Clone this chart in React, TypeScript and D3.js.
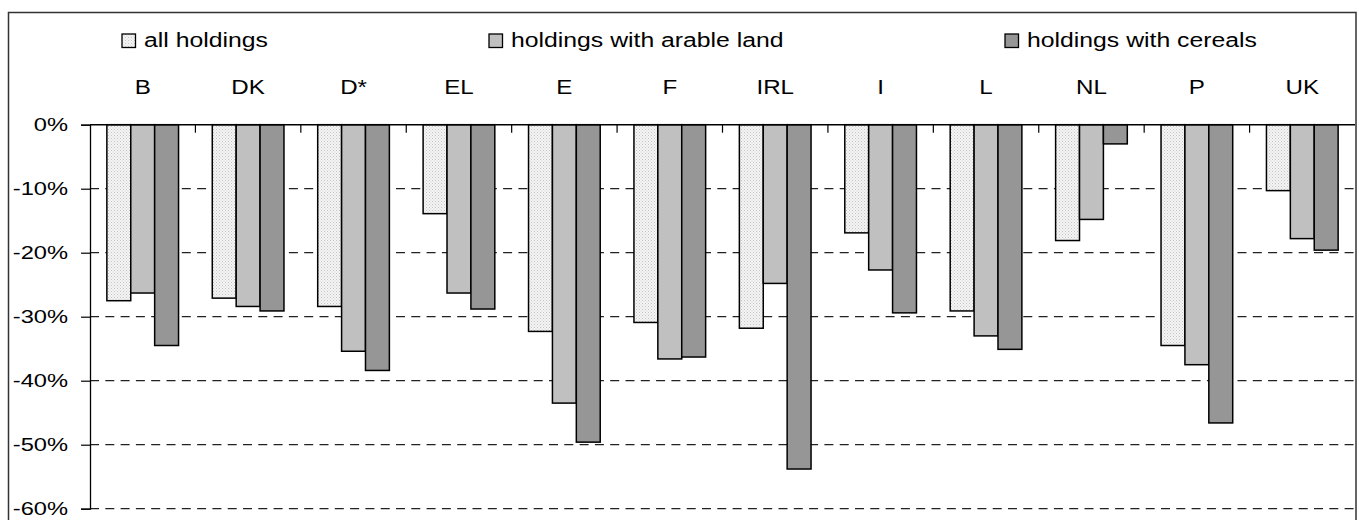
import React, { useEffect, useRef } from "react"
import * as d3 from "d3"

const countries = ["B", "DK", "D*", "EL", "E", "F", "IRL", "I", "L", "NL", "P", "UK"]
const seriesNames = ["all holdings", "holdings with arable land", "holdings with cereals"]
const allHoldings = [-27.5, -27.1, -28.4, -13.9, -32.3, -30.9, -31.8, -16.9, -29.1, -18.1, -34.5, -10.3]
const arableLand = [-26.3, -28.4, -35.4, -26.3, -43.5, -36.6, -24.8, -22.7, -33.0, -14.8, -37.5, -17.8]
const cereals = [-34.5, -29.1, -38.4, -28.8, -49.6, -36.3, -53.8, -29.4, -35.1, -3.0, -46.6, -19.6]
const yTicks = [0, -10, -20, -30, -40, -50, -60]

const seriesFills = ["url(#dots)", "#c0c0c0", "#969696"]

export default function App() {
  const svgRef = useRef<SVGSVGElement>(null)

  useEffect(() => {
    if (!svgRef.current) return
    const svg = d3.select(svgRef.current)
    svg.selectAll("*").remove()

    const W = 1359
    const H = 520
    const left = 90
    const right = 1355
    const top = 124.7
    const bottom = 508.7
    const font = "'Liberation Sans', Arial, sans-serif"

    // dotted fill for the first series
    const defs = svg.append("defs")
    const pat = defs
      .append("pattern")
      .attr("id", "dots")
      .attr("patternUnits", "userSpaceOnUse")
      .attr("width", 3)
      .attr("height", 3)
    pat.append("rect").attr("width", 3).attr("height", 3).attr("fill", "#f4f4f4")
    pat.append("rect").attr("x", 0).attr("y", 0).attr("width", 1).attr("height", 1).attr("fill", "#c4c4c4")
    pat.append("rect").attr("x", 1.5).attr("y", 1.5).attr("width", 1).attr("height", 1).attr("fill", "#d0d0d0")

    svg.append("rect").attr("width", W).attr("height", H).attr("fill", "#fff")

    // outer frame
    svg
      .append("rect")
      .attr("x", 8.5)
      .attr("y", 12.5)
      .attr("width", 1347.5)
      .attr("height", 520)
      .attr("fill", "none")
      .attr("stroke", "#333")
      .attr("stroke-width", 1.5)

    const x = d3.scaleBand().domain(countries).range([left, right]).paddingInner(0).paddingOuter(0)
    const groupW = x.bandwidth() * 0.68
    const xi = d3.scaleBand().domain(seriesNames).range([0, groupW])
    const y = d3.scaleLinear().domain([0, -60]).range([top, bottom])

    // gridlines
    svg
      .append("g")
      .selectAll("line")
      .data(yTicks.filter(t => t !== 0))
      .enter()
      .append("line")
      .attr("x1", left)
      .attr("x2", right)
      .attr("y1", d => y(d))
      .attr("y2", d => y(d))
      .attr("stroke", "#222")
      .attr("stroke-width", 1.2)
      .attr("stroke-dasharray", "9,6.3")

    // y axis
    const yAxis = svg
      .append("g")
      .attr("transform", `translate(${left},0)`)
      .call(d3.axisLeft(y).tickValues(yTicks).tickSize(9).tickFormat(() => ""))
    yAxis.select(".domain").attr("stroke", "#000").attr("stroke-width", 1.3)
    yAxis.selectAll(".tick line").attr("stroke", "#000").attr("stroke-width", 1.2)

    // y tick labels (text in the original is a bit stretched)
    svg
      .append("g")
      .selectAll("text")
      .data(yTicks)
      .enter()
      .append("text")
      .attr("transform", d => `translate(68,${y(d) + 6.6}) scale(1.28,1)`)
      .attr("text-anchor", "end")
      .attr("font-size", "18.5px")
      .attr("font-family", font)
      .attr("fill", "#000")
      .text(d => `${d}%`)

    // bars
    const series = [allHoldings, arableLand, cereals]
    series.forEach((vals, si) => {
      svg
        .append("g")
        .selectAll("rect")
        .data(vals)
        .enter()
        .append("rect")
        .attr("x", (d, i) => (x(countries[i]) || 0) + (x.bandwidth() - groupW) / 2 + (xi(seriesNames[si]) || 0))
        .attr("y", y(0))
        .attr("width", xi.bandwidth())
        .attr("height", d => y(d) - y(0))
        .attr("fill", seriesFills[si])
        .attr("stroke", "#000")
        .attr("stroke-width", 1.5)
    })

    // top axis with category ticks
    svg
      .append("line")
      .attr("x1", left)
      .attr("x2", right)
      .attr("y1", y(0))
      .attr("y2", y(0))
      .attr("stroke", "#000")
      .attr("stroke-width", 1.5)
    svg
      .append("g")
      .selectAll("line")
      .data(countries.slice(1))
      .enter()
      .append("line")
      .attr("x1", d => x(d) || 0)
      .attr("x2", d => x(d) || 0)
      .attr("y1", y(0))
      .attr("y2", y(0) + 8)
      .attr("stroke", "#000")
      .attr("stroke-width", 1.2)

    // category labels
    svg
      .append("g")
      .selectAll("text")
      .data(countries)
      .enter()
      .append("text")
      .attr("transform", d => `translate(${(x(d) || 0) + x.bandwidth() / 2},94) scale(1.15,1)`)
      .attr("text-anchor", "middle")
      .attr("font-size", "21px")
      .attr("font-family", font)
      .attr("fill", "#000")
      .text(d => d)

    // legend
    const legendX = [122, 489, 1005]
    const lg = svg
      .append("g")
      .selectAll("g")
      .data(seriesNames)
      .enter()
      .append("g")
      .attr("transform", (d, i) => `translate(${legendX[i]},34)`)
    lg.append("rect")
      .attr("width", 13.5)
      .attr("height", 13.5)
      .attr("fill", (d, i) => seriesFills[i])
      .attr("stroke", "#000")
      .attr("stroke-width", 1.3)
    lg.append("text")
      .attr("transform", "translate(22,12.7) scale(1.18,1)")
      .attr("font-size", "21px")
      .attr("font-family", font)
      .attr("fill", "#000")
      .text(d => d)
  }, [])

  return (
    <div style={{ position: "absolute", left: 0, top: 0 }}>
      <svg ref={svgRef} width={1359} height={520} style={{ display: "block" }}></svg>
    </div>
  )
}
